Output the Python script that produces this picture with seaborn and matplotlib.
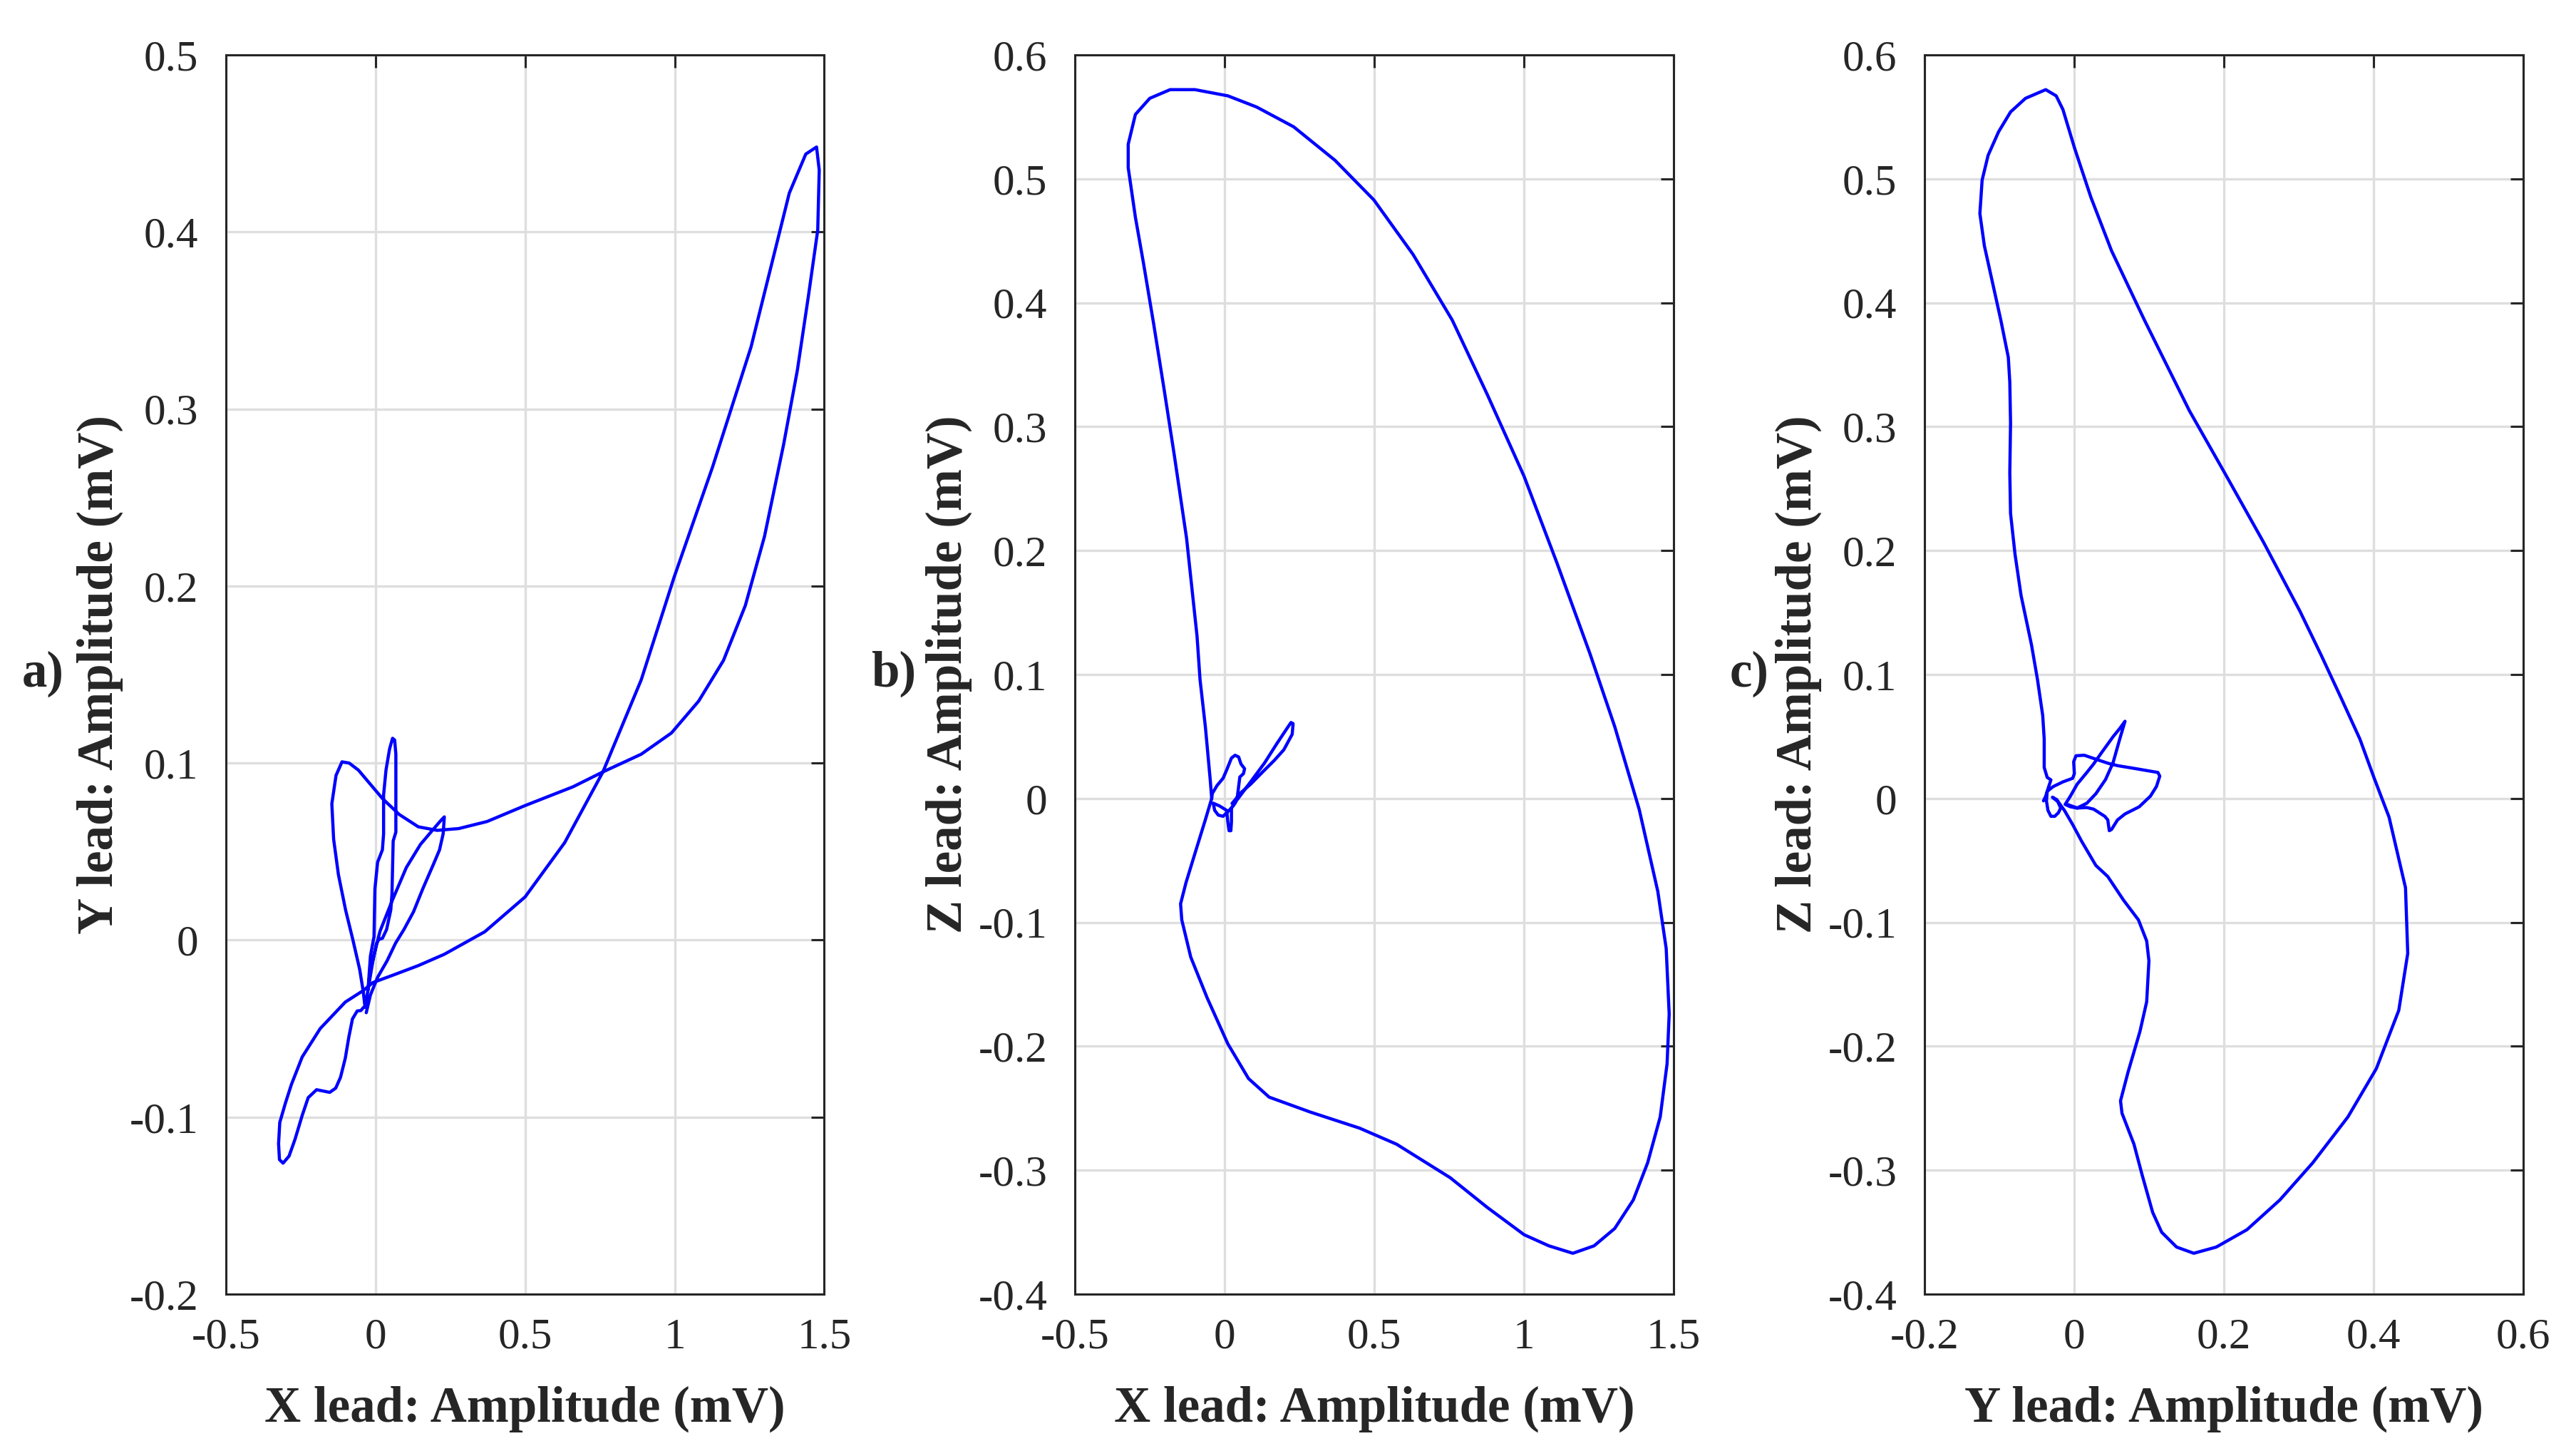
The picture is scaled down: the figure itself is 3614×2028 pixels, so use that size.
import matplotlib
matplotlib.use("Agg")
import matplotlib.pyplot as plt
import seaborn as sns
import pandas as pd
import numpy as np

# ---- data ----
# panel a: X lead vs Y lead
x_a = [-0.040, -0.049, -0.061, -0.077, -0.089, -0.101, -0.117, -0.133, -0.153, -0.197,
       -0.225, -0.245, -0.269, -0.289, -0.309, -0.321, -0.324, -0.320, -0.301, -0.281,
       -0.245, -0.185, -0.101, -0.041, -0.009, 0.063, 0.143, 0.230, 0.365, 0.500,
       0.632, 0.760, 0.888, 0.998, 1.126, 1.255, 1.383, 1.438, 1.474, 1.483,
       1.478, 1.447, 1.410, 1.364, 1.300, 1.236, 1.163, 1.080, 0.989, 0.888,
       0.760, 0.660, 0.500, 0.373, 0.278, 0.206, 0.143, 0.079, 0.023, -0.017,
       -0.057, -0.088, -0.112, -0.132, -0.146, -0.140, -0.124, -0.100, -0.076, -0.053,
       -0.041, -0.035,
       -0.025, -0.017, -0.005, -0.002, 0.007, 0.023, 0.027, 0.027, 0.035, 0.047,
       0.057, 0.064, 0.068, 0.068, 0.059, 0.055, 0.051, 0.037, 0.023, 0.011,
       0.003, -0.009, -0.025,
       -0.017, 0.015, 0.055, 0.103, 0.150, 0.190, 0.218, 0.230, 0.226, 0.214,
       0.194, 0.158, 0.127, 0.095, 0.067, 0.039, 0.007, -0.017, -0.031]
y_a = [-0.038, -0.0398, -0.040, -0.0445, -0.0546, -0.0667, -0.0775, -0.0836, -0.086, -0.0845,
       -0.089, -0.099, -0.1125, -0.122, -0.126, -0.124, -0.115, -0.103, -0.092, -0.0815,
       -0.066, -0.050, -0.035, -0.0285, -0.024, -0.0195, -0.0144, -0.008, 0.0047, 0.0244,
       0.055, 0.095, 0.147, 0.205, 0.267, 0.335, 0.422, 0.444, 0.448, 0.435,
       0.401, 0.364, 0.322, 0.280, 0.228, 0.189, 0.158, 0.135, 0.117, 0.105,
       0.095, 0.0866, 0.076, 0.067, 0.063, 0.062, 0.064, 0.071, 0.080, 0.088,
       0.096, 0.100, 0.1007, 0.093, 0.077, 0.057, 0.037, 0.017, 0.0004, -0.0165,
       -0.029, -0.038,
       -0.028, -0.009, 0.002, 0.029, 0.044, 0.051, 0.060, 0.082, 0.096, 0.108,
       0.114, 0.113, 0.105, 0.061, 0.056, 0.026, 0.017, 0.006, 0.001, 0.0004,
       -0.002, -0.012, -0.028,
       -0.0165, 0.005, 0.022, 0.041, 0.054, 0.062, 0.0675, 0.0696, 0.060, 0.051,
       0.043, 0.029, 0.016, 0.006, -0.0017, -0.0116, -0.021, -0.031, -0.041]

# panel b: X lead vs Z lead
x_b = [-0.043, -0.048, -0.064, -0.082, -0.092, -0.127, -0.168, -0.202, -0.237, -0.271,
       -0.298, -0.322, -0.322, -0.298, -0.250, -0.182, -0.099, 0.011, 0.107, 0.231,
       0.369, 0.499, 0.630, 0.761, 0.878, 1.001, 1.111, 1.221, 1.304, 1.386,
       1.448, 1.476, 1.486, 1.479, 1.456, 1.414, 1.366, 1.304, 1.235, 1.164,
       1.084, 1.001, 0.878, 0.754, 0.575, 0.451, 0.286, 0.149, 0.080, 0.011,
       -0.058, -0.113, -0.143, -0.147, -0.129, -0.096, -0.064, -0.043,
       -0.041, -0.025, -0.005, 0.007, 0.023, 0.035, 0.047, 0.055, 0.067, 0.063,
       0.051, 0.047, 0.043, 0.035, 0.023, 0.007, -0.005, -0.021, -0.033, -0.038,
       -0.017, 0.007, 0.011, 0.015, 0.021, 0.023, 0.023,
       0.039, 0.087, 0.134, 0.174, 0.206, 0.222, 0.229, 0.226, 0.198, 0.166,
       0.126, 0.087, 0.055, 0.039, 0.025]
z_b = [0.0, 0.0153, 0.0575, 0.096, 0.131, 0.210, 0.277, 0.330, 0.383, 0.432,
       0.469, 0.509, 0.528, 0.552, 0.565, 0.572, 0.572, 0.567, 0.558, 0.542,
       0.515, 0.483, 0.439, 0.386, 0.326, 0.260, 0.190, 0.117, 0.058, -0.009,
       -0.075, -0.121, -0.174, -0.214, -0.257, -0.294, -0.324, -0.347, -0.361, -0.367,
       -0.361, -0.352, -0.330, -0.306, -0.279, -0.266, -0.253, -0.241, -0.226, -0.198,
       -0.161, -0.128, -0.098, -0.085, -0.068, -0.042, -0.017, 0.0,
       0.004, 0.0105, 0.0163, 0.023, 0.0326, 0.0349, 0.0335, 0.0278, 0.024, 0.020,
       0.0173, 0.0096, 0.0019, -0.0038, -0.0077, -0.0115, -0.0144, -0.0134, -0.0096, -0.0038,
       -0.006, -0.0096, -0.019, -0.026, -0.026, -0.019, -0.0077,
       -0.002, 0.0134, 0.0288, 0.044, 0.0556, 0.0613, 0.0604, 0.0518, 0.0393, 0.0307,
       0.0211, 0.0115, 0.0048, 0.0, -0.004]

# panel c: Y lead vs Z lead
y_c = [-0.041, -0.038, -0.034, -0.031, -0.036, -0.040, -0.040, -0.042, -0.049, -0.057,
       -0.071, -0.079, -0.085, -0.086, -0.085, -0.086, -0.088, -0.098, -0.109, -0.120,
       -0.126, -0.123, -0.115, -0.101, -0.085, -0.065, -0.038, -0.024, -0.015, 0.0005,
       0.0225, 0.050, 0.094, 0.154, 0.201, 0.253, 0.302, 0.330, 0.357, 0.382,
       0.401, 0.421, 0.443, 0.446, 0.434, 0.404, 0.366, 0.319, 0.275, 0.231,
       0.190, 0.160, 0.137, 0.117, 0.105, 0.091, 0.080, 0.064, 0.062, 0.072,
       0.088, 0.097, 0.100, 0.097, 0.086, 0.066, 0.045, 0.029, 0.010, -0.002,
       -0.013, -0.021, -0.029,
       -0.023, -0.018, -0.021, -0.026, -0.031, -0.035, -0.037, -0.036,
       -0.028, -0.015, -0.002, 0.0003, -0.0006, 0.0025, 0.0136, 0.0295, 0.0454, 0.058,
       0.083, 0.112, 0.1145, 0.110, 0.102, 0.087, 0.068, 0.058, 0.050, 0.047,
       0.045, 0.041, 0.026, 0.017, 0.004, -0.005, -0.012,
       -0.005, 0.004, 0.017, 0.026, 0.036, 0.052, 0.061, 0.068, 0.061, 0.052,
       0.042, 0.029, 0.017, 0.004, -0.008]
z_c = [-0.0019, 0.0019, 0.0096, 0.015, 0.017, 0.025, 0.048, 0.067, 0.096, 0.124,
       0.164, 0.197, 0.230, 0.263, 0.303, 0.336, 0.356, 0.386, 0.416, 0.446,
       0.472, 0.499, 0.519, 0.538, 0.554, 0.565, 0.572, 0.567, 0.556, 0.525,
       0.485, 0.442, 0.386, 0.313, 0.263, 0.207, 0.151, 0.116, 0.081, 0.048,
       0.0166, -0.015, -0.072, -0.125, -0.171, -0.218, -0.257, -0.294, -0.324, -0.348,
       -0.362, -0.367, -0.362, -0.350, -0.334, -0.304, -0.279, -0.254, -0.244, -0.221,
       -0.188, -0.164, -0.131, -0.115, -0.098, -0.082, -0.063, -0.054, -0.0345, -0.021,
       -0.0096, -0.0029, 0.001,
       -0.001, -0.0077, -0.0115, -0.0144, -0.0144, -0.0096, -0.002, 0.0058,
       0.0096, 0.0134, 0.0163, 0.020, 0.0297, 0.0345, 0.0349, 0.0316, 0.0284, 0.0265,
       0.024, 0.021, 0.018, 0.0096, 0.0019, -0.0067, -0.0125, -0.0173, -0.025, -0.026,
       -0.0173, -0.0144, -0.0086, -0.0073, -0.0077, -0.0067, -0.0048,
       0.0019, 0.0115, 0.021, 0.0278, 0.0364, 0.0498, 0.0565, 0.0623, 0.048, 0.0288,
       0.0153, 0.0038, -0.0038, -0.0077, -0.005]

# ticks
ticks_x_ab = [-0.5, 0, 0.5, 1, 1.5]
labels_x_ab = ["-0.5", "0", "0.5", "1", "1.5"]
ticks_x_c = [-0.2, 0, 0.2, 0.4, 0.6]
labels_x_c = ["-0.2", "0", "0.2", "0.4", "0.6"]
ticks_y_a = [-0.2, -0.1, 0, 0.1, 0.2, 0.3, 0.4, 0.5]
labels_y_a = ["-0.2", "-0.1", "0", "0.1", "0.2", "0.3", "0.4", "0.5"]
ticks_y_bc = [-0.4, -0.3, -0.2, -0.1, 0, 0.1, 0.2, 0.3, 0.4, 0.5, 0.6]
labels_y_bc = ["-0.4", "-0.3", "-0.2", "-0.1", "0", "0.1", "0.2", "0.3", "0.4", "0.5", "0.6"]

xlabels = ["X lead: Amplitude (mV)", "X lead: Amplitude (mV)", "Y lead: Amplitude (mV)"]
ylabels = ["Y lead: Amplitude (mV)", "Z lead: Amplitude (mV)", "Z lead: Amplitude (mV)"]
tags = ["a)", "b)", "c)"]

sns.set_style("white")
plt.rcParams['font.family'] = ['Liberation Serif', 'DejaVu Serif']
plt.rcParams['axes.unicode_minus'] = False

fig = plt.figure(figsize=(18.07, 10.14), dpi=200)

lefts = [0.0877, 0.4173, 0.7471]
tag_x = [0.0166, 0.347, 0.679]
panels = [
    (x_a, y_a, ticks_x_ab, labels_x_ab, ticks_y_a, labels_y_a),
    (x_b, z_b, ticks_x_ab, labels_x_ab, ticks_y_bc, labels_y_bc),
    (y_c, z_c, ticks_x_c, labels_x_c, ticks_y_bc, labels_y_bc),
]

for i, (xs, ys, tx, tlx, ty, tly) in enumerate(panels):
    ax = fig.add_axes([lefts[i], 0.105, 0.2323, 0.857])
    df = pd.DataFrame({"h": xs, "v": ys})
    sns.lineplot(data=df, x="h", y="v", sort=False, estimator=None,
                 color=(0, 0, 1), linewidth=1.6, ax=ax)
    ax.set_xlim(tx[0], tx[-1])
    ax.set_ylim(ty[0], ty[-1])
    ax.set_xticks(tx)
    ax.set_xticklabels(tlx)
    ax.set_yticks(ty)
    ax.set_yticklabels(tly)
    ax.grid(True, color="#dedede", linewidth=1.2)
    ax.set_axisbelow(True)
    for s in ax.spines.values():
        s.set_visible(True)
        s.set_color("#262626")
        s.set_linewidth(1.1)
    ax.tick_params(direction="in", length=6.5, width=1.1, colors="#262626",
                   top=True, right=True, labelsize=22, pad=14)
    ax.tick_params(axis="x", pad=12)
    ax.set_xlabel(xlabels[i], fontsize=25.5, fontweight="bold", color="#262626")
    ax.set_ylabel(ylabels[i], fontsize=25.5, fontweight="bold", color="#262626")
    ax.xaxis.set_label_coords(0.5, -0.074)
    ax.yaxis.set_label_coords(-0.172, 0.5)
    fig.text(tag_x[i], 0.534, tags[i], fontsize=25.5, fontweight="bold",
             color="#262626", ha="center", va="center")

fig.savefig("out.png", dpi=200)
